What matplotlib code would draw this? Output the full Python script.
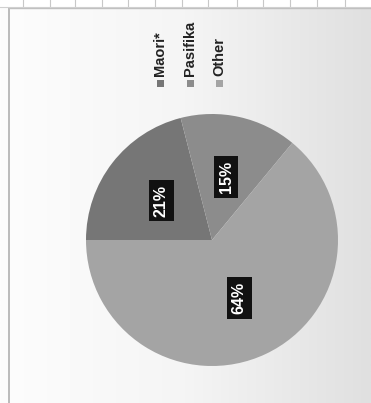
import numpy as np
import matplotlib
matplotlib.use("Agg")
import matplotlib.pyplot as plt
from matplotlib.patches import Rectangle

# data
categories = ["Maori*", "Pasifika", "Other"]
values = [21, 15, 64]
colors = ["#767676", "#8c8c8c", "#a4a4a4"]

W, H = 371, 403
fig = plt.figure(figsize=(W / 100, H / 100), dpi=100)

# background (scanned page gradient)
bg = fig.add_axes([0, 0, 1, 1])
grad = np.linspace(0, 1, 256)[None, :]
bg.imshow(grad, aspect="auto", cmap=matplotlib.colors.LinearSegmentedColormap.from_list(
    "g", ["#fdfdfd", "#f5f5f5", "#e0e0e0"]), extent=[0, W, H, 0])
bg.set_xlim(0, W)
bg.set_ylim(H, 0)
bg.axis("off")
# frame lines
bg.plot([9, 9], [8, H], color="#b0b0b0", lw=1.2)
bg.plot([9, W], [8, 8], color="#c0c0c0", lw=1.0)
bg.add_patch(Rectangle((0, 0), W, 7, color="#ffffff", zorder=1))
for gx in [23, 50, 75, 102, 128, 155, 182, 208, 237, 263, 290, 317, 345]:
    bg.plot([gx, gx], [0, 7], color="#c8c8c8", lw=0.8, zorder=2)
bg.plot([0, W], [7, 7], color="#d0d0d0", lw=0.8, zorder=2)

# pie
cx, cy, r = 212, 240, 126
ax = fig.add_axes([(cx - r) / W, (H - cy - r) / H, 2 * r / W, 2 * r / H])
wedges, texts, autotexts = ax.pie(
    values, colors=colors, startangle=180, counterclock=False,
    autopct="%d%%", pctdistance=0.51,
    wedgeprops=dict(linewidth=0),
    textprops=dict(color="white", fontsize=11.5, fontweight="bold",
                   family="Liberation Sans"))
for t in autotexts:
    t.set_rotation(90)
    t.set_bbox(dict(facecolor="#111111", edgecolor="none", pad=3.5))
ax.set_xlim(-1, 1)
ax.set_ylim(-1, 1)

# legend (rotated)
leg_x = [160, 190, 219]
for x, lab, col in zip(leg_x, categories, colors):
    bg.add_patch(Rectangle((x - 3.5, 80), 7, 7, facecolor=col, edgecolor="none", zorder=3))
    bg.text(x, 76, lab, rotation=90, ha="center", va="bottom", fontsize=10.5,
            fontweight="bold", color="#222222", family="Liberation Sans", zorder=3)

fig.savefig("out.png", dpi=100)
